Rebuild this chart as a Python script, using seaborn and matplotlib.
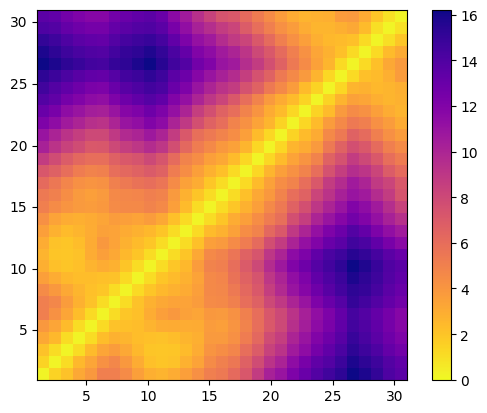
import numpy as np
import matplotlib
matplotlib.use('Agg')
import matplotlib.pyplot as plt
import seaborn as sns

# Distance matrix, lower triangle only, row 1 = bottom
row_01 = [0.2]
row_02 = [1.4, 0.2]
row_03 = [2.1, 1.1, 0.2]
row_04 = [3.2, 2.5, 1.1, 0.2]
row_05 = [3.9, 3.3, 2.4, 1.1, 0.2]
row_06 = [5.1, 4.2, 3.3, 2.3, 1.2, 0.2]
row_07 = [5.1, 4.7, 3.7, 2.8, 2.1, 1.1, 0.2]
row_08 = [4.5, 3.9, 3.2, 2.6, 2.2, 1.9, 1.1, 0.2]
row_09 = [3.6, 3.0, 2.5, 2.3, 2.3, 2.2, 2.1, 1.2, 0.2]
row_10 = [2.9, 2.2, 2.0, 2.2, 2.7, 3.0, 2.8, 2.0, 1.1, 0.2]
row_11 = [2.7, 2.0, 1.9, 2.1, 3.0, 3.6, 3.2, 2.5, 2.0, 1.1, 0.2]
row_12 = [3.0, 2.1, 2.0, 2.3, 3.1, 3.9, 3.4, 2.8, 2.4, 1.9, 1.1, 0.2]
row_13 = [3.6, 2.8, 2.4, 2.6, 3.0, 3.5, 3.4, 3.1, 2.8, 2.5, 2.0, 1.1, 0.2]
row_14 = [4.3, 3.4, 3.0, 2.9, 3.1, 3.3, 3.7, 3.6, 3.4, 3.7, 3.2, 2.2, 1.2, 0.2]
row_15 = [5.1, 4.5, 4.1, 3.8, 3.7, 3.9, 4.5, 4.6, 4.6, 4.9, 4.6, 3.6, 2.4, 1.1, 0.2]
row_16 = [5.4, 5.0, 4.4, 3.8, 3.6, 3.8, 4.6, 4.7, 4.8, 5.1, 4.9, 3.8, 2.8, 2.0, 1.1, 0.2]
row_17 = [6.2, 5.5, 4.8, 4.3, 4.1, 4.2, 5.0, 5.4, 5.7, 6.0, 5.6, 4.5, 3.5, 3.0, 1.9, 1.1, 0.2]
row_18 = [7.2, 6.7, 6.0, 5.2, 4.9, 5.0, 6.0, 6.3, 6.6, 7.0, 6.6, 5.2, 4.4, 3.6, 2.8, 2.2, 1.2, 0.2]
row_19 = [8.7, 7.8, 6.9, 6.3, 6.0, 6.0, 6.7, 7.1, 7.4, 8.0, 7.3, 6.1, 4.9, 4.4, 3.6, 3.2, 2.4, 1.3, 0.2]
row_20 = [10.2, 9.2, 8.4, 7.8, 7.1, 7.2, 8.0, 8.6, 9.0, 9.6, 9.0, 7.7, 6.3, 5.2, 4.6, 3.9, 3.5, 2.6, 1.3, 0.2]
row_21 = [11.0, 10.1, 9.2, 8.6, 8.0, 8.0, 8.9, 9.7, 10.0, 10.7, 10.0, 8.7, 7.1, 5.9, 5.4, 4.9, 4.4, 3.6, 2.4, 1.3, 0.2]
row_22 = [12.1, 11.4, 10.6, 10.0, 9.4, 9.2, 10.0, 11.0, 11.3, 12.0, 11.5, 10.1, 8.9, 7.6, 6.6, 6.0, 4.9, 4.2, 3.4, 2.6, 1.4, 0.2]
row_23 = [13.0, 12.4, 11.4, 11.0, 10.4, 10.3, 11.0, 11.8, 12.1, 12.8, 12.2, 11.2, 10.0, 8.6, 7.6, 6.6, 6.0, 4.9, 4.1, 3.1, 2.4, 1.3, 0.2]
row_24 = [13.9, 13.4, 12.5, 12.0, 11.5, 11.3, 12.1, 12.8, 13.3, 13.8, 13.3, 12.0, 11.2, 10.0, 9.0, 8.2, 7.1, 6.0, 4.9, 3.8, 3.1, 2.4, 1.4, 0.2]
row_25 = [14.6, 13.9, 13.3, 12.8, 12.3, 12.2, 13.0, 13.7, 14.1, 14.5, 14.2, 13.0, 12.1, 11.0, 10.0, 9.2, 8.7, 7.5, 6.6, 5.4, 4.6, 3.7, 2.4, 1.4, 0.2]
row_26 = [15.3, 14.8, 14.2, 13.7, 13.3, 13.2, 13.8, 14.5, 14.8, 15.2, 14.7, 13.6, 12.9, 11.8, 11.0, 10.2, 9.6, 8.6, 7.5, 6.6, 5.4, 4.6, 3.8, 2.7, 1.3, 0.2]
row_27 = [16.2, 15.8, 15.3, 14.9, 14.5, 14.4, 15.0, 15.3, 15.8, 16.2, 15.5, 14.6, 13.9, 12.6, 12.0, 11.0, 10.6, 9.5, 8.7, 7.6, 6.6, 5.4, 4.5, 3.5, 2.6, 1.2, 0.2]
row_28 = [15.8, 15.3, 14.7, 14.3, 14.0, 13.9, 14.5, 15.0, 15.3, 15.7, 15.1, 14.2, 13.2, 12.0, 11.4, 10.6, 10.0, 9.1, 8.0, 7.1, 6.1, 5.1, 4.2, 3.3, 2.8, 2.2, 1.2, 0.2]
row_29 = [15.1, 14.7, 14.1, 13.6, 13.3, 13.2, 13.9, 14.4, 14.7, 14.9, 14.4, 13.3, 12.2, 11.2, 10.6, 9.6, 8.8, 8.2, 7.1, 6.1, 5.1, 4.3, 3.6, 2.9, 2.5, 2.4, 2.2, 1.2, 0.2]
row_30 = [14.1, 13.9, 13.2, 12.8, 12.5, 12.5, 13.2, 13.6, 13.9, 14.0, 13.6, 12.4, 11.3, 10.2, 9.5, 8.7, 8.2, 6.9, 6.0, 5.1, 4.3, 3.7, 3.0, 2.6, 2.6, 2.9, 3.2, 2.4, 1.0, 0.2]
row_31 = [13.6, 13.3, 12.6, 12.1, 11.8, 11.8, 12.6, 13.0, 13.3, 13.6, 13.0, 11.6, 10.6, 9.4, 8.4, 7.4, 7.1, 6.2, 5.3, 4.5, 3.7, 3.1, 2.7, 2.8, 2.9, 3.7, 3.8, 3.1, 1.9, 0.9, 0.2]

lower_rows = [row_01, row_02, row_03, row_04, row_05, row_06, row_07, row_08,
              row_09, row_10, row_11, row_12, row_13, row_14, row_15, row_16,
              row_17, row_18, row_19, row_20, row_21, row_22, row_23, row_24,
              row_25, row_26, row_27, row_28, row_29, row_30, row_31]

tick_values = [5, 10, 15, 20, 25, 30]
cbar_ticks = [0, 2, 4, 6, 8, 10, 12, 14, 16]

# Build the symmetric matrix
n = len(lower_rows)
mat = np.zeros((n, n))
for i, r in enumerate(lower_rows):
    mat[i, :i + 1] = r
    mat[:i + 1, i] = r

fig = plt.figure(figsize=(4.87, 4.14), dpi=100)
ax = fig.add_axes([37.0 / 487, 1 - 380.7 / 414, 369.6 / 487, 369.6 / 414])
cax = fig.add_axes([432.0 / 487, 1 - 380.7 / 414, 18.5 / 487, 369.6 / 414])

sns.heatmap(mat, cmap='plasma_r', vmin=0, vmax=mat.max(), ax=ax, cbar_ax=cax,
            cbar_kws={'ticks': cbar_ticks})
ax.invert_yaxis()

# The axis runs 1..31 across 31 cells
tick_pos = [(t - 1) * n / (n - 1) for t in tick_values]
ax.set_xticks(tick_pos, tick_values, rotation=0)
ax.set_yticks(tick_pos, tick_values, rotation=0)
for s in ax.spines.values():
    s.set_visible(True)
    s.set_linewidth(0.8)

cbar = ax.collections[0].colorbar
cbar.outline.set_visible(True)
cbar.outline.set_linewidth(0.8)
cbar.outline.set_edgecolor('black')
cax.tick_params(labelsize=10)

plt.savefig('out.png', dpi=100)
